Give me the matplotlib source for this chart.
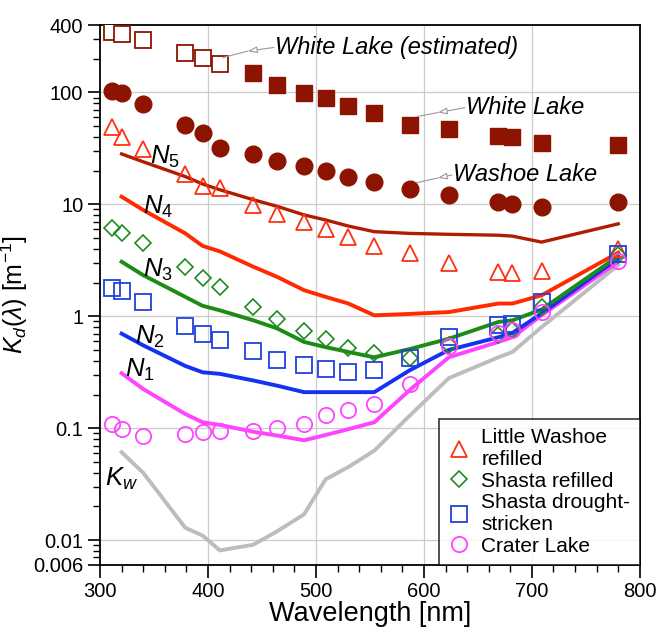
import numpy as np
import matplotlib
matplotlib.use("Agg")
import matplotlib.pyplot as plt
from matplotlib.ticker import FixedLocator, NullFormatter, MultipleLocator

plt.rcParams['font.family'] = ['Liberation Sans', 'DejaVu Sans']
plt.rcParams['mathtext.fontset'] = 'custom'
plt.rcParams['mathtext.rm'] = 'Liberation Sans'
plt.rcParams['mathtext.it'] = 'Liberation Sans:italic'

# measured wavelengths [nm]
wl = [311, 320, 340, 379, 395, 411, 442, 464, 489, 509, 530, 554, 587, 623, 669, 682, 709, 780]

# White Lake: estimated (first six bands) and measured (rest)
white_est_wl = wl[:6]
white_est = [345, 335, 295, 225, 205, 178]
white_wl = wl[6:]
white = [148, 116, 98, 90, 75, 65, 51.6, 47, 41, 40, 35, 34]

washoe = [102, 98, 78, 51.6, 43, 32, 28.4, 24.5, 21.8, 19.7, 17.7, 15.7, 13.7, 12.2, 10.4, 10.1, 9.4, 10.4]
little_washoe = [49, 40, 31, 18.8, 14.7, 14.1, 9.8, 8.2, 6.9, 6.0, 5.1, 4.25, 3.7, 3.0, 2.5, 2.45, 2.55, 4.0]
shasta_refilled = [6.2, 5.6, 4.5, 2.77, 2.2, 1.81, 1.2, 0.94, 0.74, 0.63, 0.52, 0.47, 0.42, 0.55, 0.68, 0.75, 1.2, 3.5]
shasta_drought = [1.8, 1.67, 1.34, 0.82, 0.69, 0.62, 0.485, 0.41, 0.37, 0.34, 0.32, 0.33, 0.42, 0.65, 0.83, 0.85, 1.34, 3.6]
crater = [0.11, 0.098, 0.086, 0.089, 0.092, 0.094, 0.095, 0.1, 0.11, 0.131, 0.146, 0.163, 0.25, 0.54, 0.71, 0.75, 1.1, 3.1]

# model curves N1..N5 and pure water Kw
wl_n = wl[1:]
n5 = [28.2, 24, 17.7, 15.2, 13.5, 11, 9.6, 8.05, 7.25, 6.4, 5.7, 5.5, 5.4, 5.3, 5.2, 4.6, 6.7]
n4 = [11.7, 8.9, 5.5, 4.25, 3.8, 2.77, 2.25, 1.71, 1.49, 1.3, 1.02, 1.05, 1.09, 1.3, 1.3, 1.54, 3.7]
n3 = [3.07, 2.33, 1.49, 1.24, 1.13, 0.92, 0.78, 0.59, 0.53, 0.48, 0.43, 0.51, 0.63, 0.89, 0.92, 1.15, 3.45]
n2 = [0.7, 0.55, 0.36, 0.316, 0.306, 0.267, 0.24, 0.21, 0.21, 0.21, 0.21, 0.33, 0.5, 0.65, 0.71, 1.06, 3.3]
n1 = [0.31, 0.224, 0.134, 0.113, 0.107, 0.093, 0.086, 0.078, 0.087, 0.098, 0.113, 0.22, 0.43, 0.59, 0.65, 1.02, 3.07]
kw = [0.061, 0.04, 0.0129, 0.011, 0.0081, 0.0091, 0.012, 0.017, 0.035, 0.045, 0.063, 0.13, 0.28, 0.43, 0.48, 0.8, 2.87]

fig = plt.figure(figsize=(6.61, 6.27), dpi=100)
ax = fig.add_axes([0.1513, 0.0989, 0.8167, 0.8612])

dark_red = '#8c1400'
ax.plot(wl_n, kw, color='#bdbdbd', lw=2.8, zorder=2)
ax.plot(wl_n, n1, color='#ff44ff', lw=2.8, zorder=2)
ax.plot(wl_n, n2, color='#1432f0', lw=2.8, zorder=2)
ax.plot(wl_n, n3, color='#1e8c14', lw=2.8, zorder=2)
ax.plot(wl_n, n4, color='#ff2a00', lw=2.8, zorder=2)
ax.plot(wl_n, n5, color='#b01c00', lw=2.4, zorder=2)

ax.plot(white_est_wl, white_est, 's', ms=11, mfc='white', mec=dark_red, mew=1.3, zorder=3)
ax.plot(white_wl, white, 's', ms=11, color=dark_red, zorder=3)
ax.plot(wl, washoe, 'o', ms=12, color=dark_red, zorder=3)
ax.plot(wl, little_washoe, '^', ms=11, mfc='none', mec='#ff3010', mew=1.3, zorder=3,
        label='Little Washoe\nrefilled')
ax.plot(wl, shasta_refilled, 'D', ms=8, mfc='none', mec='#1e8c1e', mew=1.2, zorder=3,
        label='Shasta refilled')
ax.plot(wl, shasta_drought, 's', ms=11, mfc='none', mec='#2040e0', mew=1.3, zorder=3,
        label='Shasta drought-\nstricken')
ax.plot(wl, crater, 'o', ms=11, mfc='none', mec='#ff44ff', mew=1.3, zorder=3,
        label='Crater Lake')

ax.set_yscale('log')
ax.set_xlim(300, 800)
ax.set_ylim(0.006, 400)

ax.yaxis.set_major_locator(FixedLocator([0.006, 0.01, 0.1, 1, 10, 100, 400]))
ax.set_yticklabels(['0.006', '0.01', '0.1', '1', '10', '100', '400'])
minor = [m * 10.0 ** e for e in range(-3, 3) for m in range(2, 10)]
ax.yaxis.set_minor_locator(FixedLocator([v for v in minor if 0.006 < v < 400]))
ax.yaxis.set_minor_formatter(NullFormatter())
ax.xaxis.set_major_locator(MultipleLocator(100))
ax.xaxis.set_minor_locator(MultipleLocator(20))

ax.tick_params(which='major', direction='out', length=9, width=1.2, labelsize=14.5, pad=3)
ax.tick_params(which='minor', direction='out', length=5, width=1.0)
for s in ax.spines.values():
    s.set_linewidth(1.3)

for y in [0.01, 0.1, 1, 10, 100]:
    ax.axhline(y, color='#cccccc', lw=0.9, zorder=0)
for x in [400, 500, 600, 700]:
    ax.axvline(x, color='#cccccc', lw=0.9, zorder=0)

ax.set_xlabel('Wavelength [nm]', fontsize=19.5, labelpad=0)
ax.set_ylabel(r'$K_d$($\lambda$) [m$^{\mathrm{-1}}$]', fontsize=18, labelpad=2)

# curve labels
lab = dict(fontsize=18.5, color='black', ha='left', va='center')
ax.text(346, 26.5, r'$N_{\mathrm{5}}$', **lab)
ax.text(340, 9.4, r'$N_{\mathrm{4}}$', **lab)
ax.text(340, 2.6, r'$N_{\mathrm{3}}$', **lab)
ax.text(332, 0.66, r'$N_{\mathrm{2}}$', **lab)
ax.text(323, 0.335, r'$N_{\mathrm{1}}$', **lab)
ax.text(305, 0.035, r'$K_w$', **lab)

# annotations with hollow arrowheads
def label_arrow(text, tip, head, txt):
    ax.plot([tip[0], head[0]], [tip[1], head[1]], color='#999999', lw=0.8, zorder=4)
    ax.annotate('', xy=head, xytext=txt,
                arrowprops=dict(arrowstyle='-|>,head_length=0.55,head_width=0.2',
                                fc='white', ec='#999999', lw=0.8, shrinkA=0, shrinkB=0))
    ax.text(txt[0] + 1, txt[1], text, fontsize=17, style='italic', va='center', ha='left')

label_arrow('White Lake (estimated)', (414, 205), (437, 234), (461, 252))
label_arrow('White Lake', (594, 61), (613, 66), (638, 73))
label_arrow('Washoe Lake', (593, 15.6), (613, 17.2), (626, 18.3))

leg = ax.legend(loc='lower right', fontsize=15, frameon=True, fancybox=False,
                borderaxespad=0, handlelength=1.0, handletextpad=0.6,
                labelspacing=0.12, borderpad=0.45)
leg.get_frame().set_edgecolor('black')
leg.get_frame().set_linewidth(1.2)

fig.savefig('out.png', dpi=100)
